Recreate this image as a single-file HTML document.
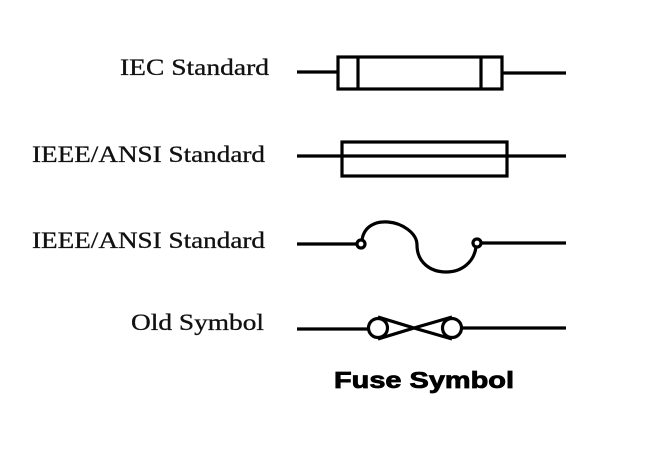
<!DOCTYPE html>
<html><head><meta charset="utf-8"><style>
html,body{margin:0;padding:0;background:#fff;width:650px;height:450px;overflow:hidden}
svg{display:block}
.t{font-family:"Liberation Serif",serif;font-size:23px;fill:#111;stroke:#111;stroke-width:0.3}
</style></head><body>
<svg width="650" height="450" viewBox="0 0 650 450" xmlns="http://www.w3.org/2000/svg">
<rect width="650" height="450" fill="#fff"/>
<text class="t" x="269" y="75" text-anchor="end" textLength="149" lengthAdjust="spacingAndGlyphs">IEC Standard</text>
<text class="t" x="265" y="162" text-anchor="end" textLength="233" lengthAdjust="spacingAndGlyphs">IEEE/ANSI Standard</text>
<text class="t" x="265" y="248" text-anchor="end" textLength="233" lengthAdjust="spacingAndGlyphs">IEEE/ANSI Standard</text>
<text class="t" x="264" y="330" text-anchor="end" textLength="133" lengthAdjust="spacingAndGlyphs">Old Symbol</text>
<text x="334" y="388" font-family="Liberation Sans,sans-serif" font-weight="bold" font-size="23" fill="#000" stroke="#000" stroke-width="0.8" textLength="180" lengthAdjust="spacingAndGlyphs">Fuse Symbol</text>
<g stroke="#000" stroke-width="3.2" fill="none">
<line x1="297" y1="72" x2="338" y2="72"/>
<line x1="502" y1="73" x2="566" y2="73"/>
<rect x="338" y="57" width="164" height="32"/>
<line x1="358" y1="57" x2="358" y2="89"/>
<line x1="481" y1="57" x2="481" y2="89"/>
<line x1="297" y1="156" x2="566" y2="156"/>
<rect x="342" y="142" width="165" height="34"/>
<line x1="297" y1="244" x2="357" y2="244"/>
<circle cx="361" cy="244" r="4"/>
<path d="M362 240 C364 226 376 221 388 222 C402 223 417 233 417 245 C417 262 430 272 446 272 C462 272 474 262 476 247"/>
<circle cx="477" cy="243" r="4"/>
<line x1="481" y1="243" x2="566" y2="243"/>
<line x1="297" y1="329" x2="368" y2="329"/>
<circle cx="378" cy="328" r="9.5"/>
<circle cx="452" cy="328" r="9.5"/>
<line x1="462" y1="328" x2="566" y2="328"/>
<path d="M378 317 L414 328 L378 339 M452 317 L414 328 L452 339"/>
</g>
</svg>
</body></html>
